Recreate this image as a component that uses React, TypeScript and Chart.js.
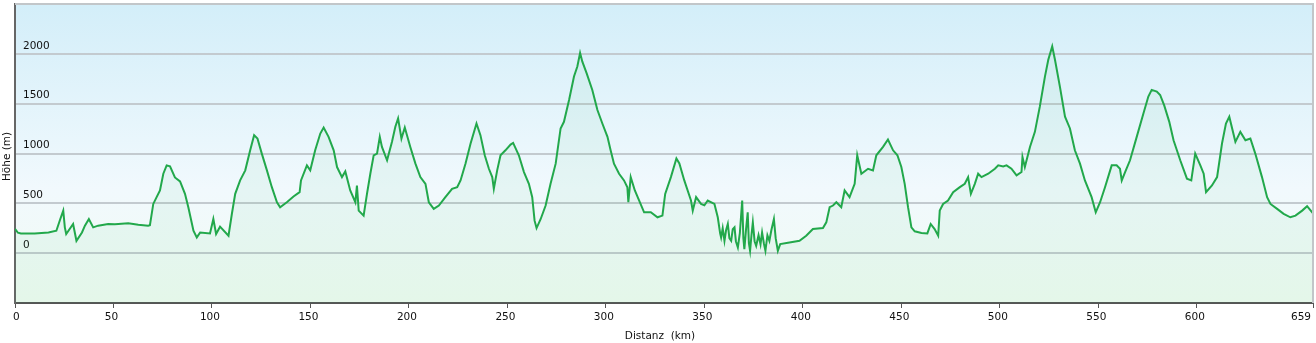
import { useEffect, useRef } from 'react';
import { Chart, registerables } from 'chart.js';

Chart.register(...registerables);

// Distance along the route (km)
const distancesKm = [
  0, 1.5, 3, 10, 17, 21, 23, 24.5, 25.3, 26, 29.5, 31.2, 34, 35.5, 37.5, 39.7, 42.2, 47.3, 50.7, 57.5,
  62.6, 67.6, 68.5, 70.2, 71.9, 73.6, 75.3, 77, 78.7, 81.2, 83.8, 86.3, 88, 90.6, 92.3, 94, 99, 100.7, 102.1, 104.1,
  108.4, 110.1, 111.8, 114.3, 116.9, 119.4, 121.4, 123.1, 125.3, 127.9, 130.4, 133, 134.6, 138, 141.4, 144.5, 145.2, 148.2, 149.9, 152.4,
  155, 156.7, 159.2, 161.8, 163.5, 166, 167.7, 170.2, 172.8, 173.6, 174.5, 177, 178.7, 180.4, 182.1, 183.8, 185.2, 186.3, 188.9, 191.4,
  193.1, 194.5, 196.2, 197.9, 200.7, 203.3, 205.8, 208.4, 210.1, 212.6, 215.2, 218.5, 221.9, 224.5, 226.2, 228.7, 231.3, 234.3, 236.3, 238.5,
  240.6, 242.3, 243.1, 244.8, 246.5, 249, 251.6, 252.9, 255.8, 258.4, 260.9, 262.6, 263.8, 264.8, 266.9, 269.4, 271.9, 274.5, 277, 278.7,
  281.3, 283.8, 285.5, 286.9, 288, 290.2, 293.1, 295.7, 298.2, 300.8, 302.4, 304.1, 306.7, 309.2, 310.9, 311.4, 312.6, 314.7, 316.9, 319.4,
  322.8, 326.2, 328.7, 330.1, 333, 335.8, 337.3, 339.8, 343.2, 344.1, 345.8, 348.3, 350, 351.7, 355.1, 356.8,
  358, 358.5, 359.3, 360.2, 361, 361.9, 362.7, 363.6, 364.4, 365.3, 366, 367, 368, 369.2, 369.8, 370.3, 371.2, 372, 372.6, 373.2,
  374, 374.6, 375.5, 376.3, 377.5, 378.5, 379.3, 380.2, 381, 382, 383, 384, 385.3, 386.2, 387.3, 388.5,
  393.2, 398.3, 401.7, 405.1, 410.2, 411.9,
  413.6, 415.3, 417, 419.5, 421.2, 423.7, 426.3, 427.6, 429.7, 433.1, 435.6, 437.3, 440.7, 443.2, 445.8, 448, 450, 451.7, 453.4, 455.1,
  456.8, 460.2, 463.2, 464.9, 466.9, 468.7, 469.5, 471.2, 473.7, 476.3, 479.7, 482.2, 483.9, 485.3, 487.3, 489, 490.7, 494.1, 497.5, 499.2,
  501.7, 503.4, 505.9, 508.5, 511, 511.5, 512.7, 515.3, 517.8, 520.3, 522.9, 524.6, 526.6, 528, 530.5, 533.1, 535.6, 538.1, 540.7, 543.2,
  546.6, 548.7, 550.9, 553.4, 556.8, 559.3, 561, 561.9, 563.6, 566.1, 569.5, 572.9, 575.4, 577.1, 579.7, 581.4, 583.5, 586, 588.2, 591.6,
  595, 597.2, 599.2, 601.8, 603.5, 604.7, 607.7, 610.3, 612.8, 614.8, 616.5, 619.6, 622.1, 624.7, 627.2, 629.7, 633.1, 635.7, 637.4, 640.8,
  644.1, 647.5, 650.1, 653.5, 656, 659,
];

// Elevation (m)
const elevationsM = [
  245, 205, 198, 198, 208, 225, 343, 427, 259, 192, 293, 124, 208, 276, 343, 259, 276, 293, 290, 300,
  286, 276, 280, 494, 562, 629, 797, 881, 871, 760, 720, 595, 461, 225, 158, 208, 198, 343, 192, 266,
  175, 393, 595, 730, 831, 1032, 1184, 1150, 999, 831, 662, 511, 461, 511, 568, 612, 730, 881, 831, 1032,
  1200, 1261, 1167, 1032, 864, 763, 820, 629, 511, 679, 427, 377, 595, 797, 982, 999, 1167, 1066, 932, 1117,
  1268, 1352, 1150, 1261, 1066, 898, 763, 696, 511, 444, 478, 562, 646, 662, 730, 898, 1100, 1301, 1184, 982,
  847, 763, 646, 831, 982, 1032, 1090, 1106, 982, 814, 696, 562, 326, 252, 343, 478, 696, 898, 1251, 1318,
  1537, 1772, 1873, 2008, 1924, 1806, 1638, 1436, 1301, 1167, 1032, 898, 797, 730, 662, 511, 763, 629, 528, 410,
  410, 360, 377, 595, 763, 950, 900, 730, 528, 427, 562, 494, 480, 528, 494, 360,
  200, 158, 250, 124, 230, 293, 150, 124, 240, 259, 120, 57, 200, 528, 150, 40, 250, 410, 100, 24,
  200, 309, 120, 74, 180, 90, 208, 100, 24, 180, 124, 230, 343, 150, 24, 91,
  108, 124, 175, 242, 252, 309,
  461, 478, 511, 461, 629, 562, 696, 982, 797, 847, 831, 982, 1066, 1140, 1032, 982, 864, 696, 461, 259,
  219, 202, 198, 293, 242, 175, 427, 494, 528, 612, 662, 696, 763, 595, 696, 797, 763, 797, 847, 881,
  871, 881, 847, 780, 814, 965, 864, 1066, 1217, 1470, 1772, 1940, 2075, 1940, 1671, 1369, 1251, 1032, 898, 730,
  562, 410, 511, 662, 881, 881, 847, 730, 814, 932, 1167, 1402, 1571, 1638, 1621, 1587, 1480, 1320, 1133, 932,
  747, 730, 999, 881, 797, 612, 679, 763, 1100, 1301, 1369, 1117, 1217, 1133, 1150, 999, 763, 562, 494, 444,
  394, 360, 377, 427, 471, 400,
];

const xTickValues = [0, 50, 100, 150, 200, 250, 300, 350, 400, 450, 500, 550, 600, 659];
const yTickValues = [-500, 0, 500, 1000, 1500, 2000, 2500];
const xTitle = 'Distanz  (km)';
const yTitle = 'Höhe (m)';

const FONT = 'Verdana, "DejaVu Sans", sans-serif';

export default function App() {
  const canvasRef = useRef<HTMLCanvasElement | null>(null);

  useEffect(() => {
    document.body.style.margin = '0';
    const canvas = canvasRef.current;
    if (!canvas) return;

    const bgPlugin = {
      id: 'bgPlugin',
      beforeDraw(chart: any) {
        const { ctx, chartArea: a } = chart;
        const g = ctx.createLinearGradient(0, a.top, 0, a.bottom);
        g.addColorStop(0, '#d3eef9');
        g.addColorStop(0.62, '#f1f9fd');
        g.addColorStop(1, '#f0fbf2');
        ctx.save();
        ctx.fillStyle = g;
        ctx.fillRect(a.left, a.top, a.right - a.left, a.bottom - a.top);
        ctx.restore();
      },
      afterDraw(chart: any) {
        const { ctx, chartArea: a } = chart;
        ctx.save();
        ctx.strokeStyle = '#c2c6c9';
        ctx.lineWidth = 2;
        ctx.beginPath();
        ctx.moveTo(a.left, a.top);
        ctx.lineTo(a.right, a.top);
        ctx.lineTo(a.right, a.bottom);
        ctx.stroke();
        ctx.fillStyle = '#111';
        ctx.font = `10.5px ${FONT}`;
        ctx.textAlign = 'center';
        ctx.textBaseline = 'middle';
        ctx.fillText(xTitle, (a.left + a.right) / 2 - 4, 336);
        ctx.translate(7, (a.top + a.bottom) / 2 + 3);
        ctx.rotate(-Math.PI / 2);
        ctx.fillText(yTitle, 0, 0);
        ctx.restore();
      },
    };

    const points = distancesKm.map((x, i) => ({ x, y: elevationsM[i] }));

    const chart = new Chart(canvas, {
      type: 'line',
      data: {
        datasets: [
          {
            data: points,
            borderColor: '#22a84b',
            borderWidth: 2,
            pointRadius: 0,
            tension: 0,
            fill: 'start',
            backgroundColor: 'rgba(50,185,105,0.06)',
          },
        ],
      },
      options: {
        animation: false,
        responsive: false,
        maintainAspectRatio: false,
        layout: { padding: { top: 4, right: 3, left: 0, bottom: 0 } },
        plugins: { legend: { display: false }, tooltip: { enabled: false } },
        scales: {
          x: {
            type: 'linear',
            min: 0,
            max: 659,
            afterBuildTicks: (s: any) => {
              s.ticks = xTickValues.map((v) => ({ value: v }));
            },
            afterFit: (s: any) => {
              s.height = 40;
              s.paddingLeft = 0;
              s.paddingRight = 0;
            },
            grid: { drawOnChartArea: false, drawTicks: true, tickLength: 5, color: '#555', lineWidth: 1 },
            border: { color: '#555', width: 2 },
            ticks: {
              color: '#111',
              font: { family: FONT, size: 10.5 },
              padding: 3,
              align: 'inner',
              labelOffset: -2,
              maxRotation: 0,
              autoSkip: false,
              callback: (v: any) => String(v),
            },
          },
          y: {
            min: -500,
            max: 2500,
            afterBuildTicks: (s: any) => {
              s.ticks = yTickValues.map((v) => ({ value: v }));
            },
            afterFit: (s: any) => {
              s.width = 15;
              s.paddingTop = 0;
              s.paddingBottom = 0;
            },
            grid: {
              drawTicks: false,
              lineWidth: 2,
              color: (c: any) =>
                c.tick && (c.tick.value === -500 || c.tick.value === 2500) ? 'rgba(0,0,0,0)' : '#c3cacf',
            },
            border: { color: '#666', width: 2 },
            ticks: {
              mirror: true,
              padding: 8,
              labelOffset: -8,
              color: '#111',
              font: { family: FONT, size: 10.5 },
              callback: (v: any) => (v === -500 || v === 2500 ? '' : String(v)),
            },
          },
        },
      },
      plugins: [bgPlugin],
    });

    return () => chart.destroy();
  }, []);

  return (
    <div style={{ width: 1316, height: 343, background: '#fff' }}>
      <canvas ref={canvasRef} width={1316} height={343} style={{ display: 'block' }} />
    </div>
  );
}
